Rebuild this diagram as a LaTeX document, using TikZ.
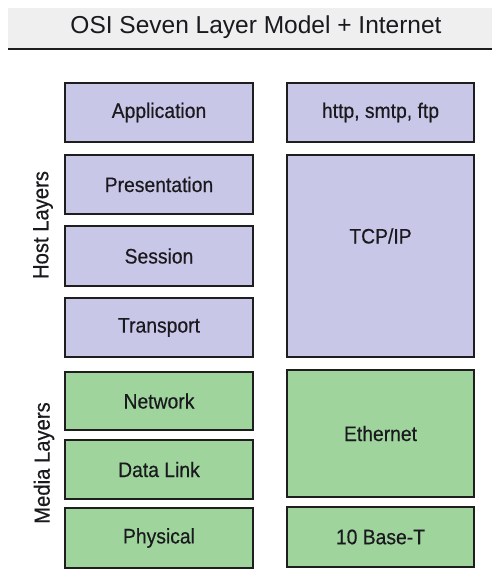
\documentclass[tikz,border=0pt]{standalone}
\usepackage{fontspec}
\setmainfont{Liberation Sans}
\newfontfamily\boxfont[FakeStretch=0.92,FakeBold=0.4]{Liberation Sans}
\definecolor{hostfill}{RGB}{201,199,231}
\definecolor{mediafill}{RGB}{159,212,157}
\definecolor{bandfill}{RGB}{239,239,239}
\definecolor{edge}{RGB}{30,30,30}
\definecolor{ink}{RGB}{25,25,30}
\begin{document}
\begin{tikzpicture}[x=1pt,y=-1pt,
  layer/.style={draw=edge,line width=2pt,inner sep=0pt,text=ink,font=\boxfont\fontsize{21}{24}\selectfont},
  host/.style={layer,fill=hostfill},
  media/.style={layer,fill=mediafill},
  lcol/.style={minimum width=188pt},
  rcol/.style={minimum width=187pt},
  side/.style={rotate=90,text=ink,font=\boxfont\fontsize{22}{25}\selectfont}]
\useasboundingbox[fill=white] (0,0) rectangle (500,575);
% title
\fill[bandfill] (8,8) rectangle (492,48);
\draw[line width=2pt,edge] (8,49) -- (492,49);
\node[text=ink,font=\fontsize{24.5}{28}\selectfont] (title) at (256,27) {OSI Seven Layer Model + Internet};
% left column
\node[host,lcol,minimum height=59pt] (app) at (159,112.5) {Application};
\node[host,lcol,minimum height=59pt] (pres) at (159,184.5) {Presentation};
\node[host,lcol,minimum height=60pt] (sess) at (159,256) {Session};
\node[host,lcol,minimum height=59pt] (trans) at (159,327.5) {Transport};
\node[media,lcol,minimum height=58pt] (net) at (159,401) {Network};
\node[media,lcol,minimum height=59pt] (dl) at (159,469.5) {Data Link};
\node[media,lcol,minimum height=60pt] (phys) at (159,538) {Physical};
% right column
\node[host,rcol,minimum height=59pt] (http) at (380.5,112.5) {http, smtp, ftp};
\node[host,rcol,minimum height=202pt] (tcp) at (380.5,256) {};
\node[text=ink,font=\boxfont\fontsize{21}{24}\selectfont] (tcptext) at (380.5,236) {TCP/IP};
\node[media,rcol,minimum height=127pt] (eth) at (380.5,433.5) {Ethernet};
\node[media,rcol,minimum height=60pt] (base) at (380.5,537) {10 Base-T};
% side labels
\node[side] (hostlbl) at (43,225) {Host Layers};
\node[side] (medialbl) at (44,463) {Media Layers};
\end{tikzpicture}
\end{document}
